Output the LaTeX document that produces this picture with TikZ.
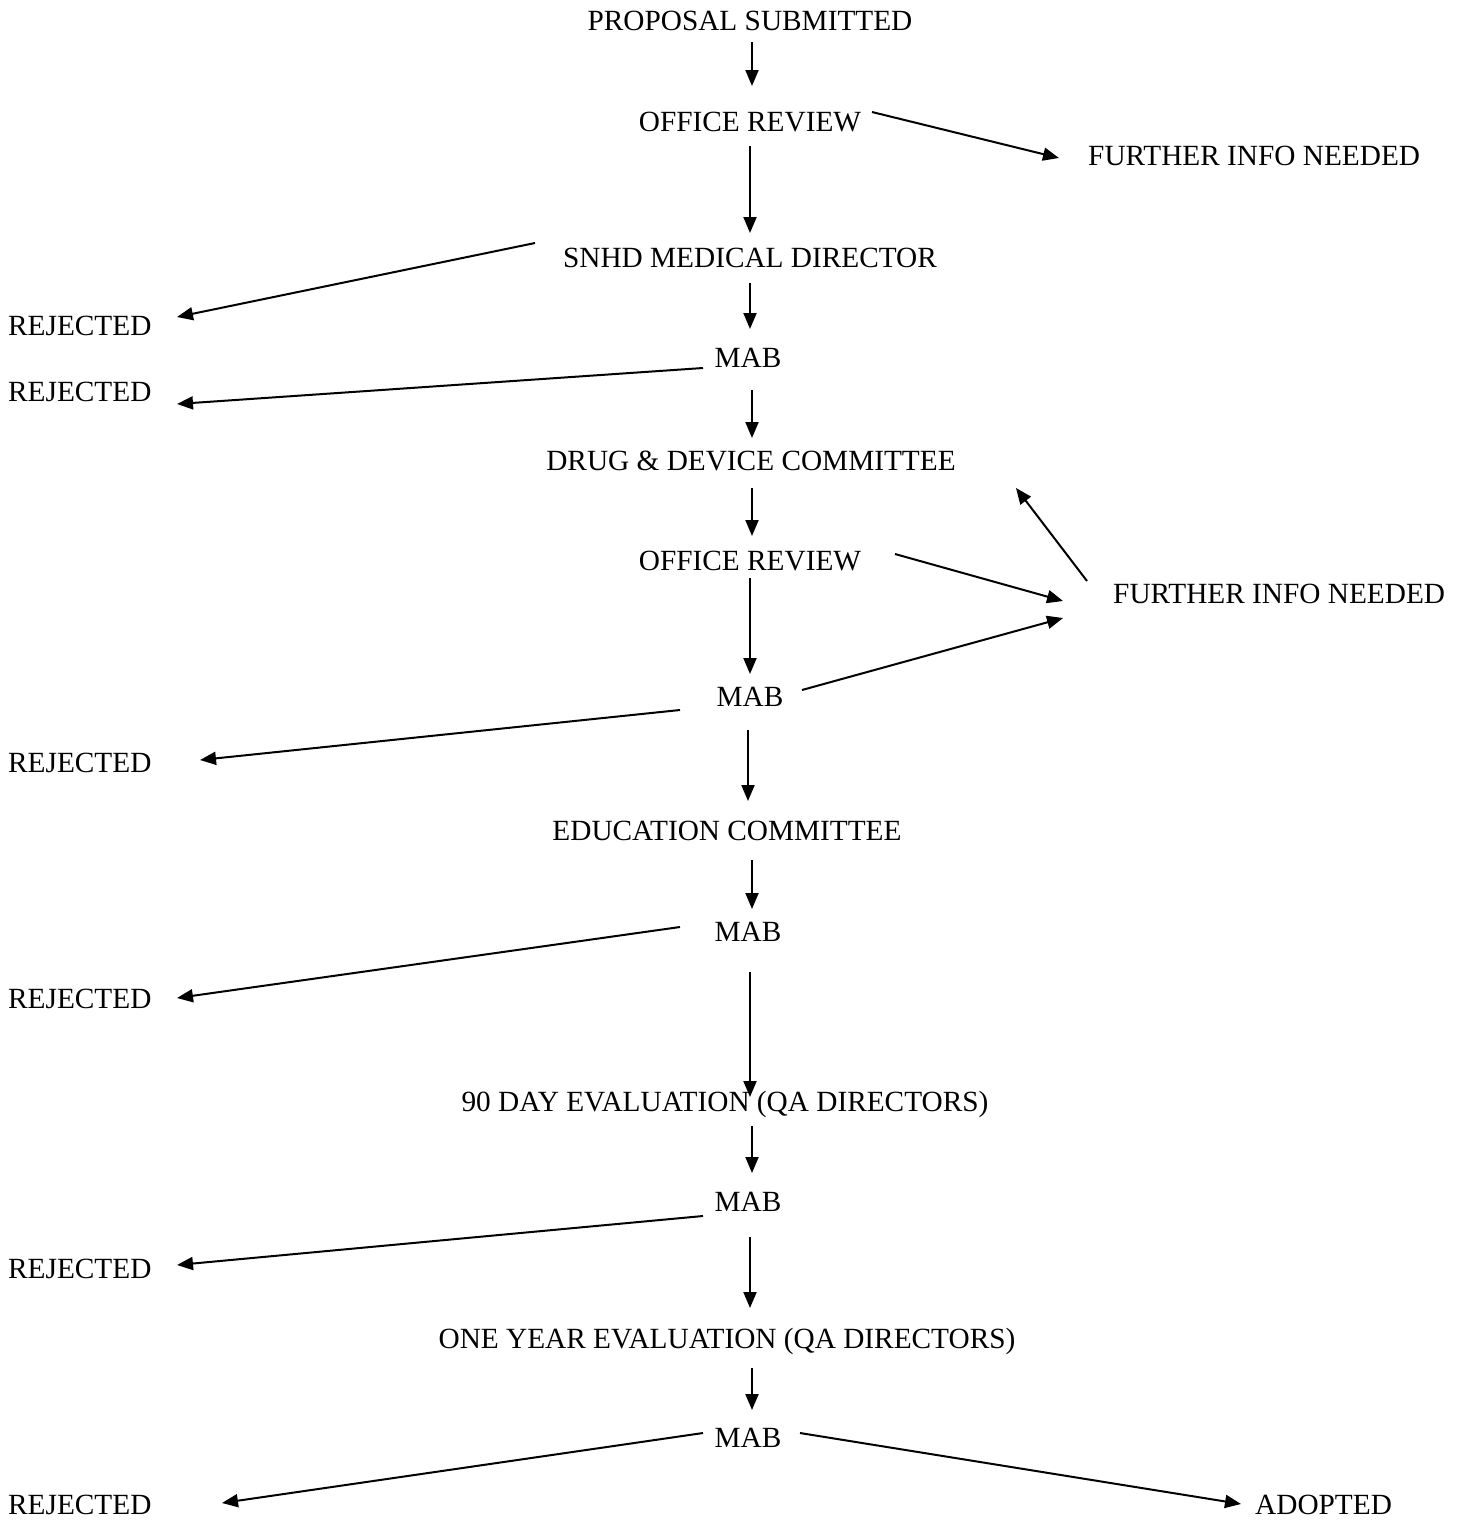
\documentclass[tikz,border=0pt]{standalone}
\usepackage{fontspec}
\setmainfont{Liberation Serif}
\usetikzlibrary{arrows.meta}
\begin{document}
\begin{tikzpicture}[x=1pt,y=-1pt,
  lbl/.style={inner sep=0pt,anchor=base,font=\fontsize{29.3}{34}\selectfont},
  lblw/.style={lbl,anchor=base west},
  conn/.style={line width=2pt,-{Triangle[length=16pt,width=13pt]}}]
\useasboundingbox (0,0) rectangle (1466,1521);
% nodes
\node[lbl]  (ps)    at (750,30)   {PROPOSAL SUBMITTED};
\node[lbl]  (or1)   at (750,131)  {OFFICE REVIEW};
\node[lblw] (fin1)  at (1088,165) {FURTHER INFO NEEDED};
\node[lbl]  (snhd)  at (750,267)  {SNHD MEDICAL DIRECTOR};
\node[lblw] (rej1)  at (8,335)    {REJECTED};
\node[lbl]  (mab1)  at (748,367)  {MAB};
\node[lblw] (rej2)  at (8,401)    {REJECTED};
\node[lbl]  (ddc)   at (751,470)  {DRUG \& DEVICE COMMITTEE};
\node[lbl]  (or2)   at (750,570)  {OFFICE REVIEW};
\node[lblw] (fin2)  at (1113,603) {FURTHER INFO NEEDED};
\node[lbl]  (mab2)  at (750,706)  {MAB};
\node[lblw] (rej3)  at (8,772)    {REJECTED};
\node[lbl]  (edu)   at (727,840)  {EDUCATION COMMITTEE};
\node[lbl]  (mab3)  at (748,941)  {MAB};
\node[lblw] (rej4)  at (8,1008)   {REJECTED};
\node[lbl]  (day90) at (725,1111) {90 DAY EVALUATION (QA DIRECTORS)};
\node[lbl]  (mab4)  at (748,1211) {MAB};
\node[lblw] (rej5)  at (8,1278)   {REJECTED};
\node[lbl]  (oneyr) at (727,1348) {ONE YEAR EVALUATION (QA DIRECTORS)};
\node[lbl]  (mab5)  at (748,1447) {MAB};
\node[lblw] (rej6)  at (8,1514)   {REJECTED};
\node[lblw] (adopt) at (1255,1514) {ADOPTED};
% connector end points
\coordinate (c1a) at (752,42);   \coordinate (c1b) at (752,86);
\coordinate (c2a) at (872,112);  \coordinate (c2b) at (1059,158);
\coordinate (c3a) at (750,146);  \coordinate (c3b) at (750,233);
\coordinate (c4a) at (535,243);  \coordinate (c4b) at (177,317);
\coordinate (c5a) at (750,283);  \coordinate (c5b) at (750,329);
\coordinate (c6a) at (703,368);  \coordinate (c6b) at (177,404);
\coordinate (c7a) at (752,390);  \coordinate (c7b) at (752,438);
\coordinate (c8a) at (752,488);  \coordinate (c8b) at (752,536);
\coordinate (c9a) at (1087,581); \coordinate (c9b) at (1016,488);
\coordinate (c10a) at (895,554); \coordinate (c10b) at (1063,601);
\coordinate (c11a) at (750,578); \coordinate (c11b) at (750,674);
\coordinate (c12a) at (802,690); \coordinate (c12b) at (1063,618);
\coordinate (c13a) at (680,710); \coordinate (c13b) at (200,760);
\coordinate (c14a) at (748,730); \coordinate (c14b) at (748,801);
\coordinate (c15a) at (752,860); \coordinate (c15b) at (752,909);
\coordinate (c16a) at (680,927); \coordinate (c16b) at (177,998);
\coordinate (c17a) at (750,972); \coordinate (c17b) at (750,1097);
\coordinate (c18a) at (752,1126);\coordinate (c18b) at (752,1173);
\coordinate (c19a) at (703,1216);\coordinate (c19b) at (177,1265);
\coordinate (c20a) at (750,1237);\coordinate (c20b) at (750,1308);
\coordinate (c21a) at (752,1368);\coordinate (c21b) at (752,1410);
\coordinate (c22a) at (703,1433);\coordinate (c22b) at (222,1503);
\coordinate (c23a) at (800,1433);\coordinate (c23b) at (1241,1504);
% connectors
\foreach \i in {1,...,23} \draw[conn] (c\i a) -- (c\i b);
\end{tikzpicture}
\end{document}
